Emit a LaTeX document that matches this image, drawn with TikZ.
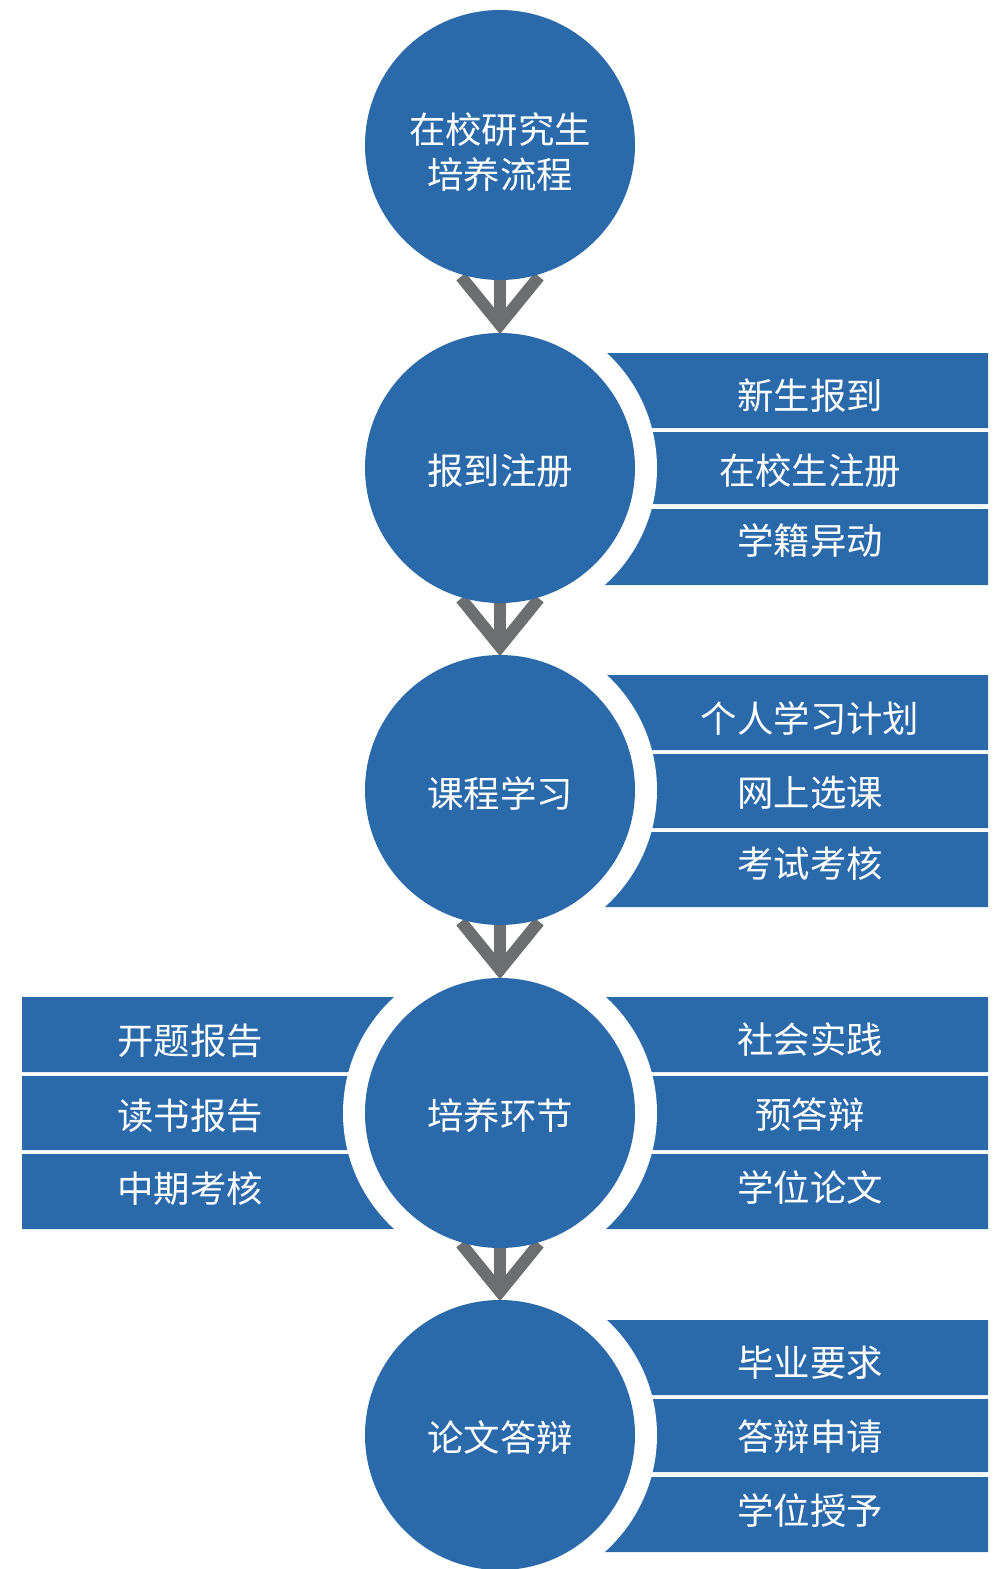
\documentclass[tikz,border=0pt]{standalone}
\usepackage{fontspec}
\setmainfont{Noto Sans CJK SC}
\usetikzlibrary{calc,backgrounds}
\definecolor{flowblue}{HTML}{2A6AAA}
\definecolor{chevgray}{HTML}{6D6E70}

\begin{document}
\begin{tikzpicture}[x=0.5pt,y=-0.5pt,
    every node/.style={text=white,font=\fontsize{18.2}{22.2}\selectfont},
    stage/.style={circle,fill=flowblue,minimum size=135pt,inner sep=0pt},
    chevron/.style={draw=chevgray,line width=6pt}]
  \useasboundingbox (0,0) rectangle (998,1569);
  % main stages
  \draw
    (500,145) node[stage] (start) {}
    (500,468) node[stage] (enrol) {}
    (500,790) node[stage] (course) {}
    (500,1113) node[stage] (train) {}
    (500,1435) node[stage] (defence) {};
  \draw
    (500,152) node[align=center] (startT) {在校研究生\\培养流程}
    (500,471) node (enrolT) {报到注册}
    (500,793) node (courseT) {课程学习}
    (500,1116) node (trainT) {培养环节}
    (500,1438) node (defenceT) {论文答辩};
  % items on the bars
  \draw
    (810,396) node (enrol1) {新生报到}
    (810,471) node (enrol2) {在校生注册}
    (810,541) node (enrol3) {学籍异动}
    (810,718) node (course1) {个人学习计划}
    (810,793) node (course2) {网上选课}
    (810,864) node (course3) {考试考核}
    (190,1041) node (trainL1) {开题报告}
    (190,1116) node (trainL2) {读书报告}
    (190,1189) node (trainL3) {中期考核}
    (810,1040) node (trainR1) {社会实践}
    (810,1115) node (trainR2) {预答辩}
    (810,1187) node (trainR3) {学位论文}
    (810,1363) node (defence1) {毕业要求}
    (810,1437) node (defence2) {答辩申请}
    (810,1511) node (defence3) {学位授予};
  \begin{scope}[on background layer]
    \fill[flowblue]
      (560,353) rectangle (988,428)
      (560,432) rectangle (988,504)
      (560,509) rectangle (988,585)
      (560,675) rectangle (988,750)
      (560,754) rectangle (988,828)
      (560,832) rectangle (988,907)
      (22,997) rectangle (440,1072)
      (22,1076) rectangle (440,1150)
      (22,1154) rectangle (440,1229)
      (560,997) rectangle (988,1072)
      (560,1076) rectangle (988,1150)
      (560,1154) rectangle (988,1229)
      (560,1320) rectangle (988,1395)
      (560,1399) rectangle (988,1472)
      (560,1477) rectangle (988,1552);
    \fill[white]
      (enrol) circle (157)
      (course) circle (157)
      (train) circle (157)
      (defence) circle (157);
    % chevrons between the stages
    \draw[chevron] (start) -- ($(enrol.north)+(0,-12)$);
    \draw[chevron] ($(enrol.north)+(-39,-56)$) -- ($(enrol.north)+(0,-8)$) -- ($(enrol.north)+(39,-56)$);
    \draw[chevron] (enrol) -- ($(course.north)+(0,-12)$);
    \draw[chevron] ($(course.north)+(-39,-56)$) -- ($(course.north)+(0,-8)$) -- ($(course.north)+(39,-56)$);
    \draw[chevron] (course) -- ($(train.north)+(0,-12)$);
    \draw[chevron] ($(train.north)+(-39,-56)$) -- ($(train.north)+(0,-8)$) -- ($(train.north)+(39,-56)$);
    \draw[chevron] (train) -- ($(defence.north)+(0,-12)$);
    \draw[chevron] ($(defence.north)+(-39,-56)$) -- ($(defence.north)+(0,-8)$) -- ($(defence.north)+(39,-56)$);
  \end{scope}
\end{tikzpicture}
\end{document}
